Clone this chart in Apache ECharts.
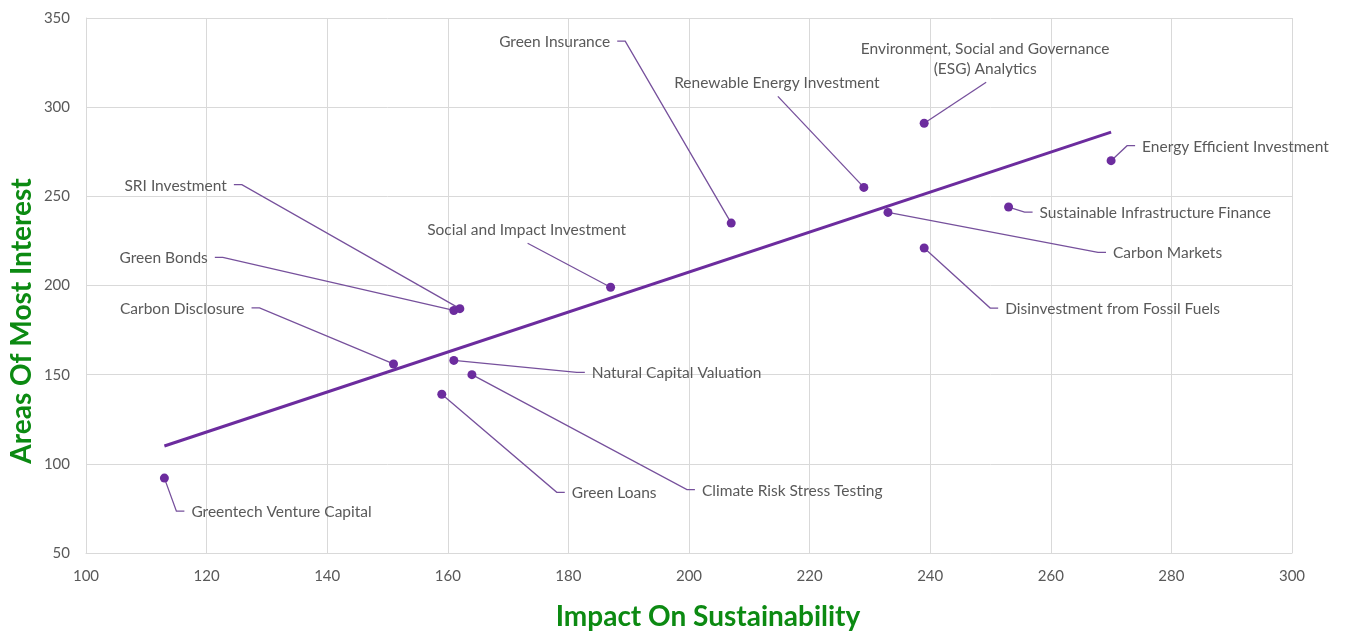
<!DOCTYPE html>
<html>
<head>
<meta charset="utf-8">
<script src="https://cdn.jsdelivr.net/npm/echarts@6/dist/echarts.min.js"></script>
<style>
  html, body { margin: 0; padding: 0; background: #ffffff; }
  #chart { width: 1346px; height: 631px; }
</style>
</head>
<body>
<div id="chart"></div>
<script>
// Topics, with their impact on sustainability (x) and interest (y)
const categories = [
  'Greentech Venture Capital',
  'Carbon Disclosure',
  'Green Bonds',
  'SRI Investment',
  'Social and Impact Investment',
  'Natural Capital Valuation',
  'Climate Risk Stress Testing',
  'Green Loans',
  'Green Insurance',
  'Renewable Energy Investment',
  'Environment, Social and Governance\n(ESG) Analytics',
  'Carbon Markets',
  'Disinvestment from Fossil Fuels',
  'Sustainable Infrastructure Finance',
  'Energy Efficient Investment'
];
const impactValues   = [113, 151, 161, 162, 187, 161, 164, 159, 207, 229, 239, 233, 239, 253, 270];
const interestValues = [ 92, 156, 186, 187, 199, 158, 150, 139, 235, 255, 291, 241, 221, 244, 270];

// Linear trend line end points
const trendX = [113, 270];
const trendY = [110, 286];

// Axis ranges and titles
const xRange = [100, 300, 20];
const yRange = [50, 350, 50];
const xTitle = 'Impact On Sustainability';
const yTitle = 'Areas Of Most Interest';

// Label placement: offset (px) of the leader-line elbow from its point, and the side the text sits on
const labelLayout = [
  [12, 33, 'right'],
  [-134, -56, 'left'],
  [-231, -53, 'left'],
  [-218, -124, 'left'],
  [-83, -44, 'top'],
  [123, 12, 'right'],
  [215, 115, 'right'],
  [115, 98, 'right'],
  [-106, -182, 'left'],
  [-86, -91, 'top'],
  [62, -41, 'top'],
  [210, 40, 'right'],
  [66, 60, 'right'],
  [16, 5, 'right'],
  [16, -15, 'right']
];

const PURPLE = '#6c2c9e';
const LEADER = '#76509c';
const TEXT = '#595959';
const GREEN = '#0c8a12';
const LABEL_FONT = 'Lato';
const STUB = 8;
const GAP = 7;

const points = impactValues.map((x, i) => [x, interestValues[i]]);
const trend = trendX.map((x, i) => [x, trendY[i]]);

const chart = echarts.init(document.getElementById('chart'), null, { renderer: 'canvas' });

const titleStyle = {
  fill: GREEN,
  fontFamily: 'Lato',
  fontWeight: 'bold',
  fontSize: 28,
  align: 'center',
  verticalAlign: 'middle'
};

chart.setOption({
  animation: false,
  backgroundColor: '#ffffff',
  grid: { left: 86, right: 54, top: 18, bottom: 78, containLabel: false, outerBoundsMode: 'none' },
  graphic: [
    { type: 'text', left: null, x: 708, y: 617, style: Object.assign({ text: xTitle }, titleStyle) },
    { type: 'text', x: 22, y: 321, rotation: Math.PI / 2, style: Object.assign({ text: yTitle }, titleStyle) }
  ],
  xAxis: {
    type: 'value',
    min: xRange[0], max: xRange[1], interval: xRange[2],
    axisLine: { show: true, lineStyle: { color: '#d9d9d9', width: 1 } },
    axisTick: { show: false },
    axisLabel: { color: TEXT, fontFamily: 'Lato', fontSize: 15, margin: 16 },
    splitLine: { show: true, lineStyle: { color: '#d9d9d9', width: 1 } }
  },
  yAxis: {
    type: 'value',
    min: yRange[0], max: yRange[1], interval: yRange[2],
    axisLine: { show: true, lineStyle: { color: '#d9d9d9', width: 1 } },
    axisTick: { show: false },
    axisLabel: { color: TEXT, fontFamily: 'Lato', fontSize: 15, margin: 16 },
    splitLine: { show: true, lineStyle: { color: '#d9d9d9', width: 1 } }
  },
  series: [
    {
      name: 'Trend',
      type: 'line',
      data: trend,
      symbol: 'none',
      lineStyle: { color: PURPLE, width: 3 },
      z: 2
    },
    {
      name: 'Labels',
      type: 'custom',
      data: points,
      clip: false,
      z: 3,
      renderItem: function (params, api) {
        const i = params.dataIndex;
        const p = api.coord([api.value(0), api.value(1)]);
        const lay = labelLayout[i];
        const ex = p[0] + lay[0];
        const ey = p[1] + lay[1];
        const pts = [[p[0], p[1]], [ex, ey]];
        let tx, ty, align, vAlign;
        if (lay[2] === 'right') {
          pts.push([ex + STUB, ey]);
          tx = ex + STUB + GAP; ty = ey + 1; align = 'left'; vAlign = 'middle';
        } else if (lay[2] === 'left') {
          pts.push([ex - STUB, ey]);
          tx = ex - STUB - GAP; ty = ey + 1; align = 'right'; vAlign = 'middle';
        } else {
          tx = ex - 1; ty = ey - 3; align = 'center'; vAlign = 'bottom';
        }
        return {
          type: 'group',
          children: [
            {
              type: 'polyline',
              shape: { points: pts },
              style: { stroke: LEADER, lineWidth: 1.3, fill: null }
            },
            {
              type: 'text',
              x: tx, y: ty,
              style: {
                text: categories[i],
                align: align,
                verticalAlign: vAlign,
                fill: TEXT,
                fontFamily: LABEL_FONT,
                fontSize: 15.5,
                lineHeight: 20
              }
            }
          ]
        };
      }
    },
    {
      name: 'Topics',
      type: 'scatter',
      data: points,
      symbol: 'circle',
      symbolSize: 9,
      itemStyle: { color: PURPLE, opacity: 1 },
      z: 4
    }
  ]
});
</script>
</body>
</html>
